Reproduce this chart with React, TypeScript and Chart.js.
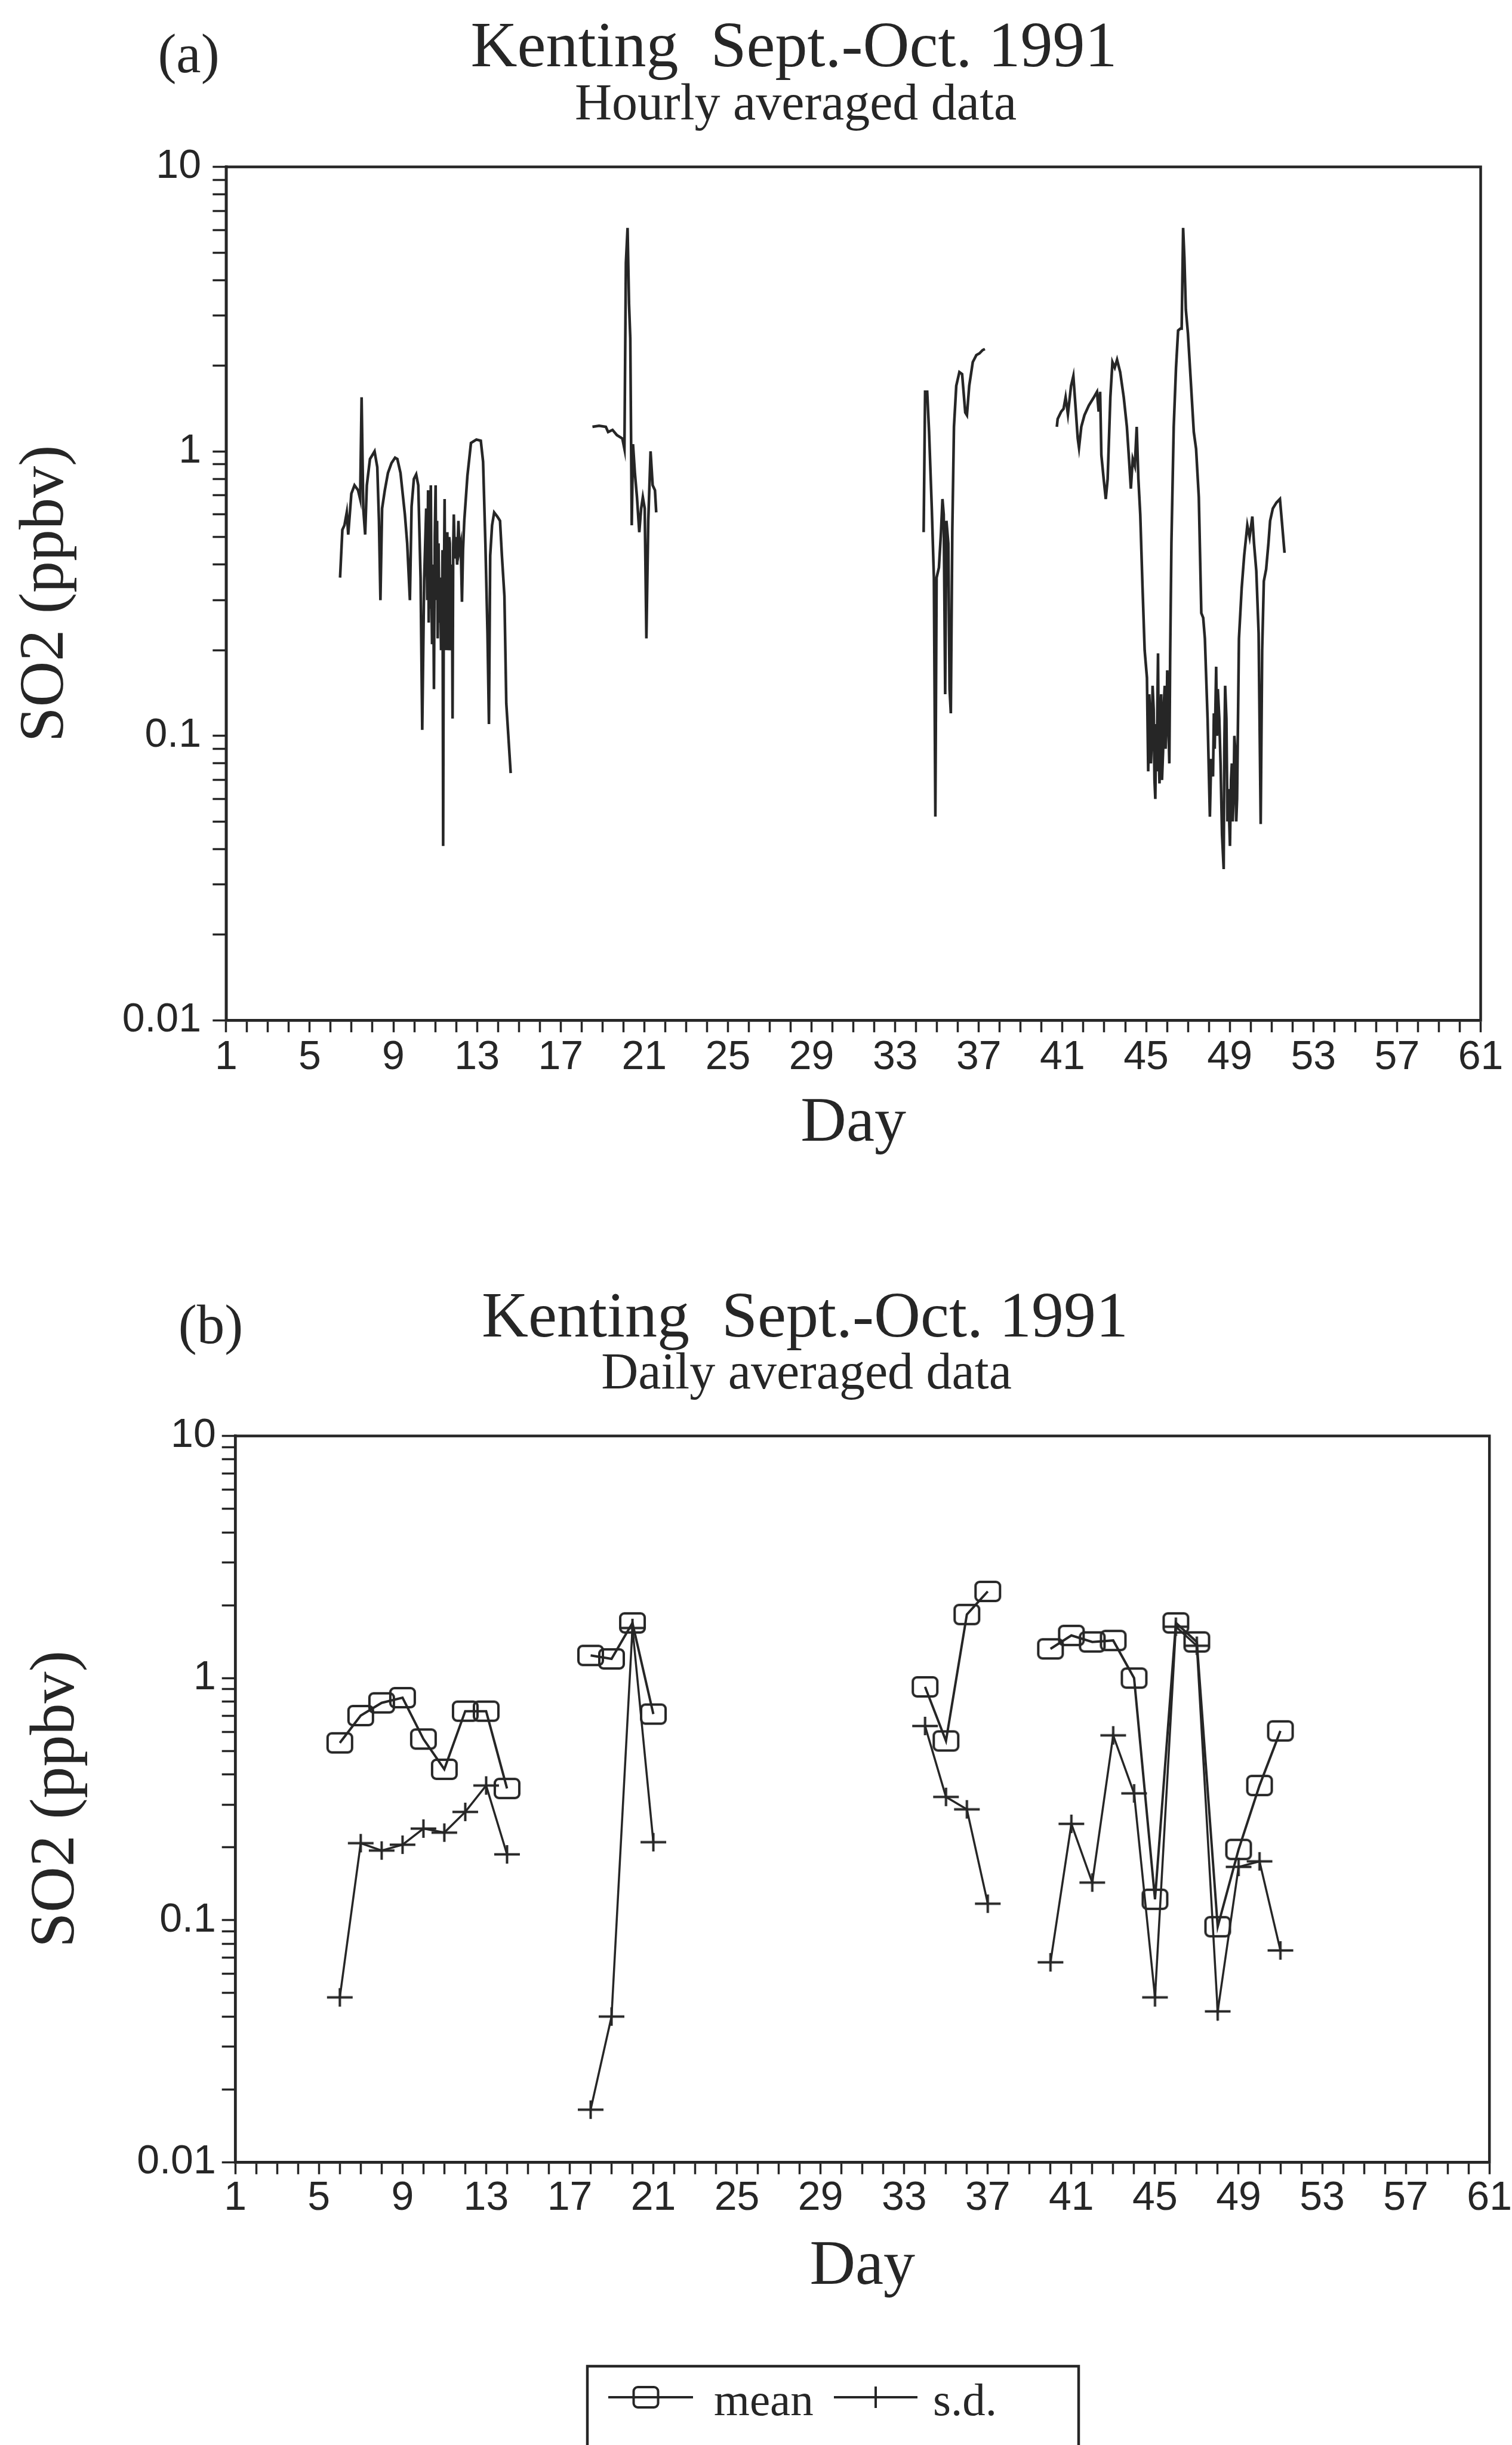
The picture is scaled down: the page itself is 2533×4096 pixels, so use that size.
import React, { useEffect, useRef } from 'react';
import { Chart, registerables } from 'chart.js';

Chart.register(...registerables);

const SERIF = '"Liberation Serif", "Times New Roman", serif';
const SANS = '"Liberation Sans", Arial, sans-serif';
const INK = '#262626';

// ---------- data ----------
// (a) hourly averaged SO2 (ppbv); null marks a gap in the record
const hourlyDay: number[] = [
  6.45, 6.56, 6.66, 6.77, 6.84, 6.99, 7.14, 7.31, 7.41, 7.48, 7.56, 7.65, 7.73, 7.88, 8.1, 8.23, 8.31, 8.38, 8.46, 8.59,
  8.74, 8.91, 9.08, 9.19, 9.34, 9.55, 9.66, 9.79, 9.87, 9.98, 10.09, 10.19, 10.3, 10.38, 10.47, 10.57, 10.62, 10.66, 10.69, 10.72,
  10.76, 10.79, 10.82, 10.85, 10.9, 10.94, 10.98, 11.02, 11.05, 11.09, 11.12, 11.16, 11.2, 11.24, 11.28, 11.32, 11.35, 11.38, 11.41, 11.45,
  11.48, 11.52, 11.55, 11.58, 11.61, 11.64, 11.67, 11.7, 11.73, 11.76, 11.8, 11.83, 11.86, 11.89, 11.94, 12.0, 12.05, 12.11, 12.16, 12.22,
  12.28, 12.33, 12.39, 12.54, 12.71, 12.97, 13.18, 13.29, 13.4, 13.5, 13.57, 13.63, 13.72, 13.82, 13.97, 14.1, 14.19, 14.31, 14.4, 14.61,
  16,
  18.52, 18.84, 19.16, 19.27, 19.48, 19.69, 19.95, 20.05, 20.12, 20.2, 20.27, 20.33, 20.4, 20.46, 20.55, 20.65, 20.76, 20.85, 20.93, 21.02,
  21.1, 21.19, 21.3, 21.4, 21.51, 21.57,
  28,
  34.36, 34.43, 34.53, 34.62, 34.75, 34.85, 34.92, 34.98, 35.09, 35.19, 35.26, 35.32, 35.39, 35.45, 35.54, 35.6, 35.66, 35.73, 35.81, 35.92,
  36.07, 36.2, 36.35, 36.43, 36.54, 36.71, 36.88, 37.03, 37.18, 37.29,
  39,
  40.73, 40.77, 40.94, 41.05, 41.15, 41.26, 41.41, 41.52, 41.62, 41.73, 41.79, 41.9, 42.05, 42.26, 42.48, 42.65, 42.73, 42.8, 42.86, 42.97,
  43.07, 43.16, 43.29, 43.39, 43.5, 43.61, 43.76, 43.93, 44.08, 44.19, 44.27, 44.36, 44.46, 44.55, 44.63, 44.72, 44.83, 44.93, 45.04, 45.1,
  45.15, 45.19, 45.23, 45.27, 45.31, 45.36, 45.4, 45.44, 45.48, 45.51, 45.54, 45.57, 45.6, 45.64, 45.68, 45.72, 45.76, 45.81, 45.85, 45.89,
  45.93, 45.98, 46.01, 46.04, 46.08, 46.11, 46.15, 46.21, 46.32, 46.43, 46.53, 46.64, 46.7,
  46.77, 46.83, 46.9, 47.0, 47.13, 47.28, 47.39, 47.52, 47.64, 47.73, 47.81, 47.94, 48.05, 48.11, 48.2, 48.24, 48.28, 48.35, 48.39, 48.43,
  48.5, 48.56, 48.63, 48.71, 48.74, 48.78, 48.84, 48.89, 48.93, 49.01, 49.06, 49.1, 49.14, 49.18, 49.22, 49.27, 49.31, 49.35,
  49.44, 49.57, 49.69, 49.84, 49.95, 50.08, 50.16, 50.27, 50.38, 50.48,
  50.55, 50.63, 50.74, 50.85, 50.93, 51.06, 51.23, 51.4, 51.49, 51.62,
];
const hourlySO2: (number | null)[] = [
  0.36, 0.53, 0.55, 0.61, 0.51, 0.71, 0.76, 0.73, 0.68, 1.55, 0.63, 0.51, 0.76, 0.94, 1.0, 0.88, 0.57, 0.30, 0.63, 0.73,
  0.84, 0.91, 0.95, 0.94, 0.84, 0.60, 0.475, 0.30, 0.64, 0.80, 0.83, 0.76, 0.36, 0.105, 0.35, 0.63, 0.30, 0.73, 0.25, 0.43,
  0.28, 0.76, 0.33, 0.21, 0.40, 0.146, 0.50, 0.76, 0.30, 0.57, 0.22, 0.475, 0.25, 0.36, 0.20, 0.21, 0.45, 0.041, 0.30, 0.68,
  0.25, 0.20, 0.45, 0.52, 0.20, 0.22, 0.50, 0.475, 0.20, 0.22, 0.40, 0.115, 0.45, 0.60, 0.42, 0.50, 0.40, 0.57, 0.45, 0.475,
  0.296, 0.45, 0.57, 0.82, 1.07, 1.10, 1.09, 0.92, 0.475, 0.23, 0.11, 0.43, 0.55, 0.61, 0.59, 0.57, 0.43, 0.31, 0.13, 0.074,
  null,
  1.22, 1.23, 1.22, 1.17, 1.19, 1.14, 1.11, 1.02, 4.6, 6.1, 3.3, 2.5, 0.55, 1.06, 0.84, 0.69, 0.52, 0.63, 0.69, 0.63,
  0.22, 0.57, 1.0, 0.76, 0.73, 0.61,
  null,
  0.52, 1.62, 1.62, 1.17, 0.63, 0.36, 0.052, 0.36, 0.39, 0.52, 0.68, 0.60, 0.14, 0.57, 0.475, 0.146, 0.12, 0.52, 1.22, 1.7,
  1.9, 1.87, 1.37, 1.34, 1.7, 2.06, 2.18, 2.21, 2.27, 2.29,
  null,
  1.22, 1.30, 1.38, 1.41, 1.55, 1.35, 1.70, 1.84, 1.45, 1.11, 1.03, 1.22, 1.34, 1.45, 1.54, 1.62, 1.38, 1.62, 0.97, 0.80,
  0.68, 0.80, 1.55, 2.06, 1.97, 2.1, 1.9, 1.55, 1.22, 0.92, 0.74, 0.94, 0.89, 1.22, 0.80, 0.60, 0.33, 0.20, 0.16, 0.075,
  0.14, 0.12, 0.08, 0.095, 0.15, 0.124, 0.07, 0.06, 0.11, 0.075, 0.13, 0.195, 0.09, 0.068, 0.12, 0.14, 0.07, 0.088, 0.13, 0.15,
  0.09, 0.115, 0.17, 0.15, 0.10, 0.08, 0.19, 0.475, 1.22, 1.97, 2.66, 2.7, 2.7,
  6.1, 4.8, 3.15, 2.6, 1.8, 1.17, 1.02, 0.69, 0.27, 0.26, 0.22, 0.115, 0.052, 0.083, 0.072, 0.12, 0.09, 0.175, 0.10, 0.146,
  0.115, 0.08, 0.045, 0.034, 0.09, 0.15, 0.115, 0.05, 0.065, 0.041, 0.07, 0.08, 0.05, 0.06, 0.10, 0.088, 0.05, 0.06,
  0.22, 0.33, 0.43, 0.55, 0.50, 0.59, 0.475, 0.38, 0.23, 0.049,
  0.20, 0.35, 0.385, 0.475, 0.57, 0.63, 0.66, 0.68, 0.57, 0.44,
];

// (b) daily averaged data
const dailyDay: number[] = [6, 7, 8, 9, 10, 11, 12, 13, 14, 15, 18, 19, 20, 21, 22, 34, 35, 36, 37, 38, 40, 41, 42, 43, 44, 45, 46, 47, 48, 49, 50, 51];
const dailyMean: (number | null)[] = [
  0.54, 0.70, 0.79, 0.83, 0.56, 0.42, 0.73, 0.73, 0.35, null,
  1.24, 1.20, 1.69, 0.71, null,
  0.92, 0.55, 1.83, 2.28, null,
  1.32, 1.50, 1.41, 1.43, 1.0, 0.122, 1.69, 1.41, 0.094, 0.196, 0.36, 0.605,
];
const dailySD: (number | null)[] = [
  0.048, 0.208, 0.194, 0.205, 0.239, 0.23, 0.28, 0.36, 0.187, null,
  0.0165, 0.040, 1.61, 0.21, null,
  0.634, 0.323, 0.287, 0.117, null,
  0.067, 0.25, 0.143, 0.58, 0.334, 0.048, 1.63, 1.36, 0.042, 0.166, 0.175, 0.075,
];

// axes
const dayTickValues: number[] = [
  1, 2, 3, 4, 5, 6, 7, 8, 9, 10, 11, 12, 13, 14, 15, 16, 17, 18, 19, 20, 21, 22, 23, 24, 25, 26, 27, 28, 29, 30,
  31, 32, 33, 34, 35, 36, 37, 38, 39, 40, 41, 42, 43, 44, 45, 46, 47, 48, 49, 50, 51, 52, 53, 54, 55, 56, 57, 58, 59, 60, 61,
];
const dayLabelValues: number[] = [1, 5, 9, 13, 17, 21, 25, 29, 33, 37, 41, 45, 49, 53, 57, 61];
const so2TickValues: number[] = [
  0.01, 0.02, 0.03, 0.04, 0.05, 0.06, 0.07, 0.08, 0.09,
  0.1, 0.2, 0.3, 0.4, 0.5, 0.6, 0.7, 0.8, 0.9,
  1, 2, 3, 4, 5, 6, 7, 8, 9, 10,
];
const so2LabelValues: number[] = [0.01, 0.1, 1, 10];
const so2Labels: string[] = ['0.01', '0.1', '1', '10'];

const mainTitle = 'Kenting  Sept.-Oct. 1991';
const subTitleA = 'Hourly averaged data';
const subTitleB = 'Daily averaged data';
const yTitle = 'SO2 (ppbv)';
const xTitle = 'Day';

// ---------- helpers ----------
function makeSquare(w: number, h: number, lw: number, r: number, lineLen = 0, lineOffset = 0) {
  const W = Math.max(w + lw * 2, lineLen);
  const H = h + lw * 2;
  const c = document.createElement('canvas');
  c.width = Math.ceil(W);
  c.height = Math.ceil(H);
  const g = c.getContext('2d')!;
  g.strokeStyle = INK;
  g.lineWidth = lw;
  const cx = W / 2 + lineOffset;
  if (lineLen) {
    g.beginPath();
    g.moveTo(0, H / 2);
    g.lineTo(W, H / 2);
    g.stroke();
  }
  g.beginPath();
  const x0 = cx - w / 2;
  const y0 = lw;
  if ((g as any).roundRect) (g as any).roundRect(x0, y0, w, h, r);
  else g.rect(x0, y0, w, h);
  g.stroke();
  return c;
}

function makeCross(w: number, h: number, lw: number) {
  const c = document.createElement('canvas');
  c.width = Math.ceil(w + lw);
  c.height = Math.ceil(h + lw);
  const g = c.getContext('2d')!;
  g.strokeStyle = INK;
  g.lineWidth = lw;
  g.beginPath();
  g.moveTo(lw / 2, c.height / 2);
  g.lineTo(c.width - lw / 2, c.height / 2);
  g.moveTo(c.width / 2, lw / 2);
  g.lineTo(c.width / 2, c.height - lw / 2);
  g.stroke();
  return c;
}

function xScale(height: number, labelPad: number, titlePadBottom: number) {
  return {
    type: 'linear' as const,
    min: 1,
    max: 61,
    afterBuildTicks: (s: any) => {
      s.ticks = dayTickValues.map((v) => ({ value: v }));
    },
    afterFit: (s: any) => {
      s.height = height;
    },
    ticks: {
      autoSkip: false,
      maxRotation: 0,
      minRotation: 0,
      padding: labelPad,
      color: INK,
      font: { family: SANS, size: 68 },
      callback: (v: any) => (dayLabelValues.indexOf(Number(v)) >= 0 ? String(v) : ''),
    },
    grid: {
      drawOnChartArea: false,
      drawTicks: true,
      tickLength: 20,
      tickWidth: 3.5,
      tickColor: INK,
      color: INK,
    },
    border: { display: true, color: INK, width: 4.5 },
    title: {
      display: true,
      text: xTitle,
      color: INK,
      font: { family: SERIF, size: 106 },
      padding: { top: 0, bottom: titlePadBottom },
    },
  };
}

function yScale(width: number, labelPad: number, titlePadTop: number) {
  return {
    type: 'logarithmic' as const,
    min: 0.01,
    max: 10,
    afterBuildTicks: (s: any) => {
      s.ticks = so2TickValues.map((v) => ({ value: v }));
    },
    afterFit: (s: any) => {
      s.width = width;
    },
    ticks: {
      autoSkip: false,
      padding: labelPad,
      color: INK,
      font: { family: SANS, size: 68 },
      callback: (v: any) => {
        const i = so2LabelValues.indexOf(Number(v));
        return i >= 0 ? so2Labels[i] : '';
      },
    },
    grid: {
      drawOnChartArea: false,
      drawTicks: true,
      tickLength: 22.5,
      tickWidth: 3.5,
      tickColor: INK,
      color: INK,
    },
    border: { display: true, color: INK, width: 4.5 },
    title: {
      display: true,
      text: yTitle,
      color: INK,
      font: { family: SERIF, size: 106 },
      padding: { top: titlePadTop, bottom: 0 },
    },
  };
}

const framePlugin = {
  id: 'frame',
  afterDraw(chart: any) {
    const { ctx, chartArea: a } = chart;
    ctx.save();
    ctx.strokeStyle = INK;
    ctx.lineWidth = 4.5;
    ctx.strokeRect(a.left, a.top, a.right - a.left, a.bottom - a.top);
    ctx.restore();
  },
};

function headerPlugin(panel: string, sub: string, p: any) {
  return {
    id: 'header',
    afterDraw(chart: any) {
      const ctx = chart.ctx;
      ctx.save();
      ctx.fillStyle = INK;
      ctx.textAlign = 'center';
      ctx.textBaseline = 'alphabetic';
      ctx.font = `93px ${SERIF}`;
      ctx.fillText(panel, p.panelX, p.panelY);
      ctx.font = `108px ${SERIF}`;
      ctx.fillText(mainTitle, p.titleX, p.titleY);
      ctx.font = `86px ${SERIF}`;
      ctx.fillText(sub, p.subX, p.subY);
      ctx.restore();
    },
  };
}

export default function App() {
  const refA = useRef<HTMLCanvasElement>(null);
  const refB = useRef<HTMLCanvasElement>(null);

  useEffect(() => {
    document.body.style.margin = '0';
    const squareImg = makeSquare(41, 32, 4, 7);
    const crossImg = makeCross(43, 31, 4);
    const legendSquare = makeSquare(41, 34, 4, 7, 142, -8);
    const legendCross = makeCross(140, 36, 4);

    const chartA = new Chart(refA.current!, {
      type: 'line',
      data: {
        datasets: [
          {
            label: 'SO2',
            data: hourlyDay.map((d, i) => ({ x: d, y: hourlySO2[i] as any })),
            borderColor: INK,
            borderWidth: 4.5,
            pointRadius: 0,
            tension: 0,
            spanGaps: false,
            fill: false,
          },
        ],
      },
      options: {
        animation: false,
        responsive: false,
        devicePixelRatio: 1,
        layout: { padding: { left: 0, top: 279.6, right: 52.5, bottom: 0 } },
        plugins: { legend: { display: false }, tooltip: { enabled: false }, title: { display: false } },
        scales: {
          x: xScale(290.7, 2, 53.2) as any,
          y: yScale(378.8, 19.3, 13.4) as any,
        },
      },
      plugins: [
        framePlugin,
        headerPlugin('(a)', subTitleA, { panelX: 316, panelY: 121, titleX: 1330, titleY: 111, subX: 1333, subY: 200 }),
      ],
    });

    const legendPlugin = {
      id: 'boxLegend',
      afterDraw(chart: any) {
        const ctx = chart.ctx;
        const ds = chart.data.datasets;
        ctx.save();
        ctx.strokeStyle = INK;
        ctx.lineWidth = 4.5;
        ctx.strokeRect(984, 1964, 823, 160);
        const ly = 2016;
        ctx.drawImage(legendSquare, 1019, ly - legendSquare.height / 2);
        ctx.drawImage(legendCross, 1395, ly - legendCross.height / 2);
        ctx.fillStyle = INK;
        ctx.font = `77px ${SERIF}`;
        ctx.textAlign = 'left';
        ctx.textBaseline = 'alphabetic';
        ctx.fillText(ds[0].label, 1196, 2045.5);
        ctx.fillText(ds[1].label, 1563, 2045.5);
        ctx.restore();
      },
    };

    const chartB = new Chart(refB.current!, {
      type: 'line',
      data: {
        datasets: [
          {
            label: 'mean',
            data: dailyDay.map((d, i) => ({ x: d, y: dailyMean[i] as any })),
            borderColor: INK,
            borderWidth: 4,
            pointStyle: squareImg as any,
            pointRadius: 20,
            tension: 0,
            spanGaps: false,
            fill: false,
          },
          {
            label: 's.d.',
            data: dailyDay.map((d, i) => ({ x: d, y: dailySD[i] as any })),
            borderColor: INK,
            borderWidth: 3.5,
            pointStyle: crossImg as any,
            pointRadius: 20,
            tension: 0,
            spanGaps: false,
            fill: false,
          },
        ],
      },
      options: {
        animation: false,
        responsive: false,
        devicePixelRatio: 1,
        layout: { padding: { left: 0, top: 405.6, right: 34.5, bottom: 0 } },
        plugins: { legend: { display: false }, tooltip: { enabled: false }, title: { display: false } },
        scales: {
          x: xScale(473.6, 0, 234.7) as any,
          y: yScale(394.2, 10, 31.6) as any,
        },
      },
      plugins: [
        framePlugin,
        legendPlugin,
        headerPlugin('(b)', subTitleB, { panelX: 353, panelY: 250, titleX: 1348.5, titleY: 239, subX: 1351, subY: 325.5 }),
      ],
    });

    return () => {
      chartA.destroy();
      chartB.destroy();
    };
  }, []);

  return (
    <div style={{ position: 'relative', width: 2533, height: 4096, background: '#fff', overflow: 'hidden' }}>
      <canvas ref={refA} width={2533} height={2000} style={{ position: 'absolute', left: 0, top: 0, width: 2533, height: 2000 }} />
      <canvas ref={refB} width={2533} height={2096} style={{ position: 'absolute', left: 0, top: 2000, width: 2533, height: 2096 }} />
    </div>
  );
}
